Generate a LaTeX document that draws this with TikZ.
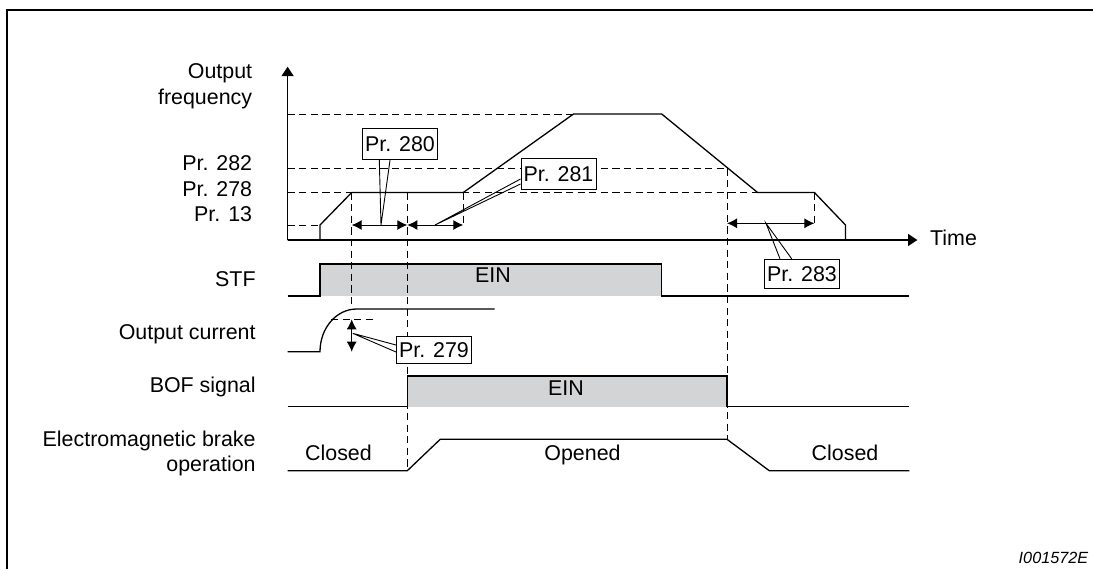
\documentclass[tikz,border=0pt]{standalone}
\usepackage{fontspec}
\setmainfont{Liberation Sans}
\usetikzlibrary{arrows.meta}
\definecolor{einfill}{RGB}{211,212,214}
\tikzset{
  sig/.style={line width=0.65pt},
  guide/.style={line width=0.45pt,dash pattern=on 3.6pt off 2.2pt},
  dim/.style={line width=0.5pt,{Latex[length=5pt,width=5pt]}-{Latex[length=5pt,width=5pt]}},
  callout/.style={draw,line width=0.5pt,fill=white,inner xsep=1.3pt,inner ysep=0pt,minimum height=15.5pt},
  pointer/.style={line width=0.45pt},
  lbl/.style={anchor=base east,inner sep=0pt},
  txt/.style={anchor=base,inner sep=0pt}
}
\begin{document}
\begin{tikzpicture}[x=0.5pt,y=-0.5pt,every node/.style={font=\fontsize{10.7}{13}\selectfont}]
\useasboundingbox (0,0) rectangle (1093,569);
% frame
\draw[line width=1.4pt] (7,569) -- (7,10) -- (1093,10);
% shaded EIN phases
\fill[einfill] (320,264) rectangle (661.7,296);
\fill[einfill] (407.3,376) rectangle (727,406.7);
% dashed guides
\draw[guide] (287.6,114) -- (573.5,114);
\draw[guide] (287.6,168.3) -- (727,168.3);
\draw[guide] (287.6,192.5) -- (757.6,192.5);
\draw[guide] (287.6,225) -- (320,225);
\draw[guide] (351.7,192.5) -- (351.7,308);
\draw[guide] (407.3,192.5) -- (407.3,470.7);
\draw[guide] (463.3,192.5) -- (463.3,225);
\draw[guide] (727,168.3) -- (727,439.3);
\draw[guide] (814.4,192.5) -- (814.4,225);
\draw[guide] (331,319.3) -- (377,319.3);
% axes
\draw[sig,-{Triangle[length=4.7pt,width=6pt]}] (287.6,240) -- (287.6,66.7);
\draw[sig,-{Triangle[length=4.7pt,width=6pt]}] (287.6,240) -- (917.4,240);
\node[anchor=base west,inner sep=0pt] (time) at (929.8,245) {Time};
% output frequency
\draw[sig] (287.6,240) -- (320,240) -- (320,225) -- (351.7,192.5) -- (463.3,192.5)
  -- (573.5,114) -- (661.7,114) -- (757.6,192.5) -- (814.4,192.5) -- (845.5,225) -- (845.5,240);
% STF
\draw[sig] (287.6,296) -- (320,296) -- (320,264) -- (661.7,264) -- (661.7,296) -- (909.3,296);
\node[txt] (stfein) at (493,282.5) {EIN};
% output current
\draw[sig] (287.6,351.7) -- (320,351.7) .. controls (320,328) and (336.4,309) .. (356.7,309) -- (494.6,309);
% BOF signal
\draw[sig] (287.6,406.7) -- (407.3,406.7) -- (407.3,376) -- (727,376) -- (727,406.7) -- (909.3,406.7);
\node[txt] (bofein) at (566,395.5) {EIN};
% brake
\draw[sig] (287.6,470.7) -- (407.3,470.7) -- (440.2,439.3) -- (727,439.3) -- (769.3,470.7) -- (909.3,470.7);
\node[txt] (cl1) at (338.5,460) {Closed};
\node[txt] (op) at (582.5,460) {Opened};
\node[txt] (cl2) at (845,460) {Closed};
% time spans
\draw[dim] (351.7,225) -- (407.3,225);
\draw[dim] (407.3,225) -- (463.3,225);
\draw[dim] (727,223.3) -- (814.4,223.3);
\draw[dim] (351.7,319.3) -- (351.7,351.7);
% parameter callouts
\node[callout] (p280) at (400,144.2) {Pr. 280};
\node[callout] (p281) at (558.5,174.2) {Pr. 281};
\node[callout,minimum height=14.5pt] (p283) at (802,273.8) {Pr. 283};
\node[callout,minimum height=13.7pt] (p279) at (434,349.7) {Pr. 279};
\draw[pointer] (379.3,0 |- p280.south) -- (381,225) -- (390,0 |- p280.south);
\draw[pointer] (p281.west |- 0,179) -- (435,225) -- (p281.west |- 0,184);
\draw[pointer] (780,0 |- p283.north) -- (766,223.3) -- (791.7,0 |- p283.north);
\draw[pointer] (p279.west |- 0,345) -- (352.7,333.3) -- (p279.west |- 0,352);
% signal names
\node[lbl] (lout) at (252.5,78.5) {Output};
\node[lbl] (lfreq) at (252.5,104) {frequency};
\node[lbl] (l282) at (252.5,170.7) {Pr. 282};
\node[lbl] (l278) at (252.5,196.7) {Pr. 278};
\node[lbl] (l13) at (252.5,221.7) {Pr. 13};
\node[lbl] (lstf) at (256,286) {STF};
\node[lbl] (lcur) at (256,339.3) {Output current};
\node[lbl] (lbof) at (256,392.3) {BOF signal};
\node[lbl] (lbrk) at (256,446) {Electromagnetic brake};
\node[lbl] (lop) at (256,471) {operation};
\node[lbl,font=\fontsize{8.1}{10}\selectfont\itshape] (fig) at (1088.5,563.3) {I001572E};
\end{tikzpicture}
\end{document}
